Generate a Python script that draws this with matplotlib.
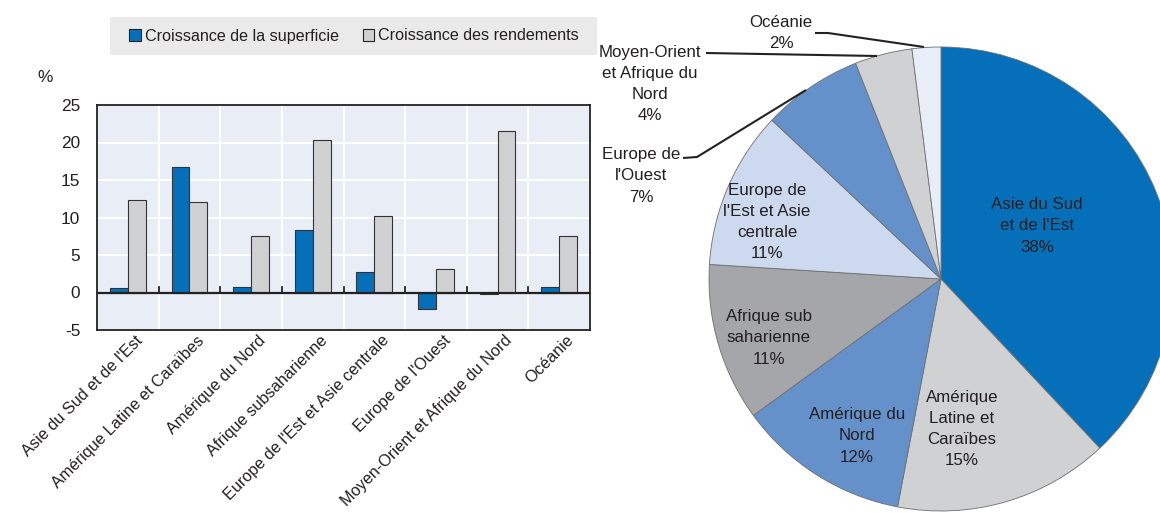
import matplotlib
matplotlib.use("Agg")
import matplotlib.pyplot as plt
from matplotlib.patches import Rectangle, Patch
from matplotlib import font_manager
import matplotlib.transforms as mtransforms
import numpy as np

# ---------------- data ----------------
regions = ["Asie du Sud et de l'Est", "Amérique Latine et Caraïbes", "Amérique du Nord",
           "Afrique subsaharienne", "Europe de l'Est et Asie centrale", "Europe de l'Ouest",
           "Moyen-Orient et Afrique du Nord", "Océanie"]
area_growth = [0.6, 16.7, 0.8, 8.3, 2.7, -2.2, -0.2, 0.8]
yield_growth = [12.4, 12.1, 7.5, 20.4, 10.2, 3.2, 21.6, 7.5]
legend_labels = ["Croissance de la superficie", "Croissance des rendements"]
y_ticks = [-5, 0, 5, 10, 15, 20, 25]

pie_labels = ["Asie du Sud\net de l'Est", "Amérique\nLatine et\nCaraïbes", "Amérique du\nNord",
              "Afrique sub\nsaharienne", "Europe de\nl'Est et Asie\ncentrale", "Europe de\nl'Ouest",
              "Moyen-Orient\net Afrique du\nNord", "Océanie"]
pie_shares = [38, 15, 12, 11, 11, 7, 4, 2]

# ---------------- style ----------------
names = {f.name for f in font_manager.fontManager.ttflist}
FONT = "Liberation Sans Narrow" if "Liberation Sans Narrow" in names else "Liberation Sans"
plt.rcParams["font.family"] = [FONT, "DejaVu Sans"]
plt.rcParams["font.size"] = 12
TXT = "#231F20"
BLUE = "#0570B9"
LGRAY = "#D0D1D3"
pie_colors = [BLUE, LGRAY, "#6591CB", "#A5A6A9", "#CCD9EE", "#6591CB", LGRAY, "#E8EEF7"]

W, H = 1160, 513
fig = plt.figure(figsize=(W / 100, H / 100), dpi=100)

def fx(px):
    return px / W

def fy(py):
    return 1 - py / H

# ---------------- bar chart ----------------
ax = fig.add_axes([fx(97), fy(330), fx(590) - fx(97), fy(105) - fy(330)])
ax.set_facecolor("#E9EDF6")
x = np.arange(len(regions))
bw = 0.29
ax.bar(x - bw / 2, area_growth, bw, color=BLUE, edgecolor="#333333", linewidth=0.8, zorder=3)
ax.bar(x + bw / 2, yield_growth, bw, color=LGRAY, edgecolor="#333333", linewidth=0.8, zorder=3)
ax.set_xlim(-0.5, len(regions) - 0.5)
ax.set_ylim(-5, 25)
ax.set_yticks(y_ticks)
ax.set_yticklabels([str(v) for v in y_ticks], color=TXT, fontsize=12.4)
for v in y_ticks[2:-1]:
    ax.axhline(v, color="white", lw=1.5, zorder=1)
for b in np.arange(0.5, len(regions) - 0.5, 1):
    ax.axvline(b, color="white", lw=1.5, zorder=1)
    ax.plot([b, b], [0, 0.8], color="#222222", lw=1.3, zorder=4)
ax.axhline(0, color="#222222", lw=1.6, zorder=4)
for s in ax.spines.values():
    s.set_color("#222222")
    s.set_linewidth(1.3)
ax.tick_params(axis="y", length=0, pad=12)
ax.tick_params(axis="x", length=0, pad=2)
ax.set_xticks(x)
ax.set_xticklabels(regions, rotation=45, ha="right", va="top", rotation_mode="anchor",
                   color=TXT, fontsize=11.7)
off = mtransforms.ScaledTranslation(5 / 72, 0, fig.dpi_scale_trans)
for lbl in ax.get_xticklabels():
    lbl.set_transform(lbl.get_transform() + off)
fig.text(fx(45), fy(78), "%", ha="center", va="center", color=TXT, fontsize=12.4)

# legend
fig.patches.append(Rectangle((fx(110), fy(55)), fx(597) - fx(110), fy(17) - fy(55),
                             transform=fig.transFigure, facecolor="#EAEAEA", edgecolor="none", zorder=0))
handles = [Patch(facecolor=BLUE, edgecolor="#222222", linewidth=0.8),
           Patch(facecolor=LGRAY, edgecolor="#222222", linewidth=0.8)]
fig.legend(handles, legend_labels, loc="center", bbox_to_anchor=(fx(354), fy(36)), ncol=2,
           frameon=False, handlelength=0.7, handleheight=0.7, handletextpad=0.25,
           columnspacing=1.5, borderpad=0, labelcolor=TXT, fontsize=11.6)

# ---------------- pie chart ----------------
R = 232.0
CX, CY = 941.0, 279.0
pax = fig.add_axes([fx(CX - R), fy(CY + R), 2 * R / W, 2 * R / H])
pax.pie(pie_shares, colors=pie_colors, startangle=90, counterclock=False,
        wedgeprops=dict(edgecolor="#6E6E70", linewidth=0.6), radius=1)
pax.set_aspect("auto")
pax.set_xlim(-1, 1)
pax.set_ylim(-1, 1)
pax.axis("off")

def d(px, py):
    return ((px - CX) / R, (CY - py) / R)

inside = {0: (1037, 226), 1: (962, 429), 2: (857, 436), 3: (769, 338), 4: (767, 222)}
outside = {5: (641, 176), 6: (650, 84), 7: (781, 33)}
for i, share in enumerate(pie_shares):
    txt = f"{pie_labels[i]}\n{share}%"
    pos = inside.get(i, outside.get(i))
    pax.text(*d(*pos), txt, ha="center", va="center", color=TXT, linespacing=1.52,
             fontsize=12.2, clip_on=False)

leaders = [
    [(683, 158), (697, 157), (806, 90)],
    [(706, 53), (877, 56)],
    [(815, 33), (828, 33), (924, 47)],
]
for pts in leaders:
    xs, ys = zip(*[d(px, py) for px, py in pts])
    pax.plot(xs, ys, color="#222222", lw=1.5, clip_on=False, solid_capstyle="butt")

fig.savefig("out.png", dpi=100)
